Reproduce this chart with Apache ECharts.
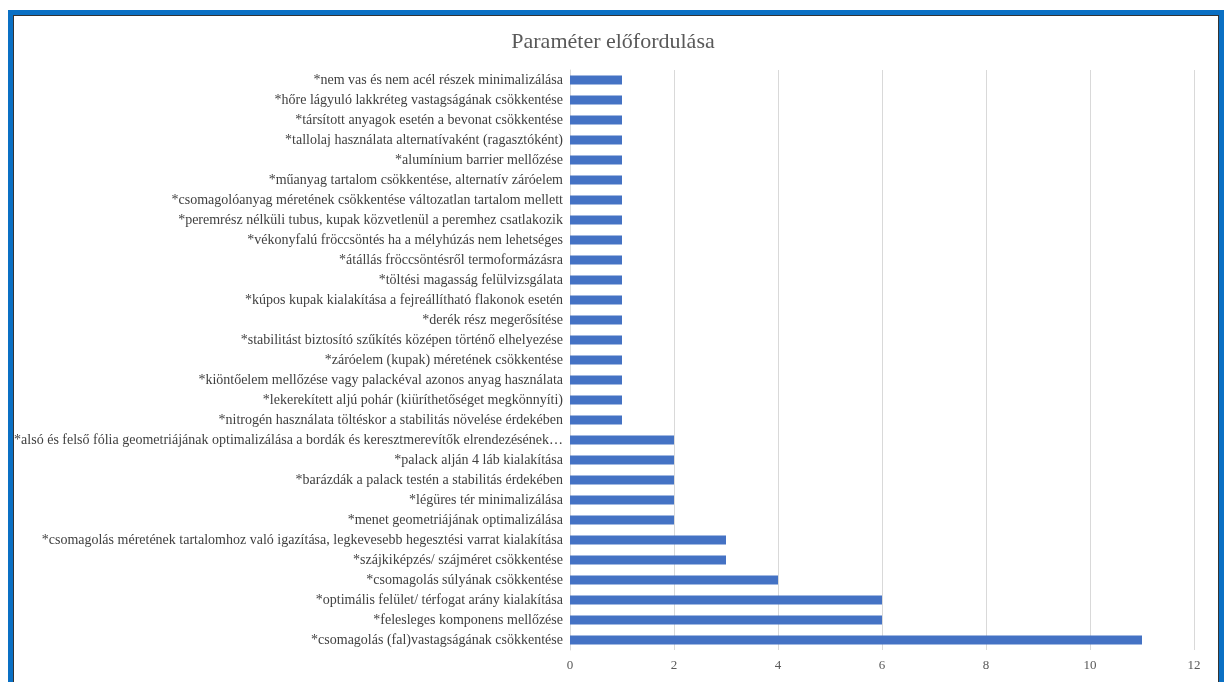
<!DOCTYPE html>
<html>
<head>
<meta charset="utf-8">
<script src="https://cdn.jsdelivr.net/npm/echarts@6/dist/echarts.min.js"></script>
<style>
html,body{margin:0;padding:0;background:#fff;overflow:hidden;}
#chart{position:absolute;left:0;top:0;width:1226px;height:682px;}
#frame{position:absolute;left:8px;top:10px;width:1206px;height:700px;border:5px solid #0a70c4;box-shadow:inset 1px 1px 0 #333, inset -1px 0 0 #333;pointer-events:none;}
</style>
</head>
<body>
<div id="chart"></div>
<div id="frame"></div>
<script>
const titleText = 'Paraméter előfordulása';
const categories = [
  '*nem vas és nem acél részek minimalizálása',
  '*hőre lágyuló lakkréteg vastagságának csökkentése',
  '*társított anyagok esetén a bevonat csökkentése',
  '*tallolaj használata alternatívaként (ragasztóként)',
  '*alumínium barrier mellőzése',
  '*műanyag tartalom csökkentése, alternatív záróelem',
  '*csomagolóanyag méretének csökkentése változatlan tartalom mellett',
  '*peremrész nélküli tubus, kupak közvetlenül a peremhez csatlakozik',
  '*vékonyfalú fröccsöntés ha a mélyhúzás nem lehetséges',
  '*átállás fröccsöntésről termoformázásra',
  '*töltési magasság felülvizsgálata',
  '*kúpos kupak kialakítása a fejreállítható flakonok esetén',
  '*derék rész megerősítése',
  '*stabilitást biztosító szűkítés középen történő elhelyezése',
  '*záróelem (kupak) méretének csökkentése',
  '*kiöntőelem mellőzése vagy palackéval azonos anyag használata',
  '*lekerekített aljú pohár (kiüríthetőséget megkönnyíti)',
  '*nitrogén használata töltéskor a stabilitás növelése érdekében',
  '*alsó és felső fólia geometriájának optimalizálása a bordák és keresztmerevítők elrendezésének…',
  '*palack alján 4 láb kialakítása',
  '*barázdák a palack testén a stabilitás érdekében',
  '*légüres tér minimalizálása',
  '*menet geometriájának optimalizálása',
  '*csomagolás méretének tartalomhoz való igazítása, legkevesebb hegesztési varrat kialakítása',
  '*szájkiképzés/ szájméret csökkentése',
  '*csomagolás súlyának csökkentése',
  '*optimális felület/ térfogat arány kialakítása',
  '*felesleges komponens mellőzése',
  '*csomagolás (fal)vastagságának csökkentése'
];
const values = [1,1,1,1,1,1,1,1,1,1,1,1,1,1,1,1,1,1,2,2,2,2,2,3,3,4,6,6,11];
const xTicks = [0, 2, 4, 6, 8, 10, 12];

const FONT = '"Liberation Serif", "Times New Roman", serif';
const chart = echarts.init(document.getElementById('chart'));
chart.setOption({
  animation: false,
  title: {
    text: titleText,
    left: 'center',
    top: 26,
    textStyle: {fontFamily: FONT, fontSize: 22, fontWeight: 'normal', color: '#595959'}
  },
  grid: {left: 570, right: 32, top: 70, bottom: 32, containLabel: false},
  xAxis: {
    type: 'value',
    min: xTicks[0],
    max: xTicks[xTicks.length - 1],
    interval: 2,
    axisLine: {show: false},
    axisTick: {show: false},
    splitLine: {show: true, lineStyle: {color: '#d9d9d9', width: 1}},
    axisLabel: {fontFamily: FONT, fontSize: 13, color: '#595959', margin: 9}
  },
  yAxis: {
    type: 'category',
    inverse: true,
    data: categories,
    axisLine: {show: true, lineStyle: {color: '#d9d9d9'}},
    axisTick: {show: false},
    axisLabel: {fontFamily: FONT, fontSize: 14, color: '#404040', margin: 7, interval: 0}
  },
  series: [{
    type: 'bar',
    data: values,
    barWidth: 9,
    itemStyle: {color: '#4472c4'}
  }]
});
</script>
</body>
</html>
